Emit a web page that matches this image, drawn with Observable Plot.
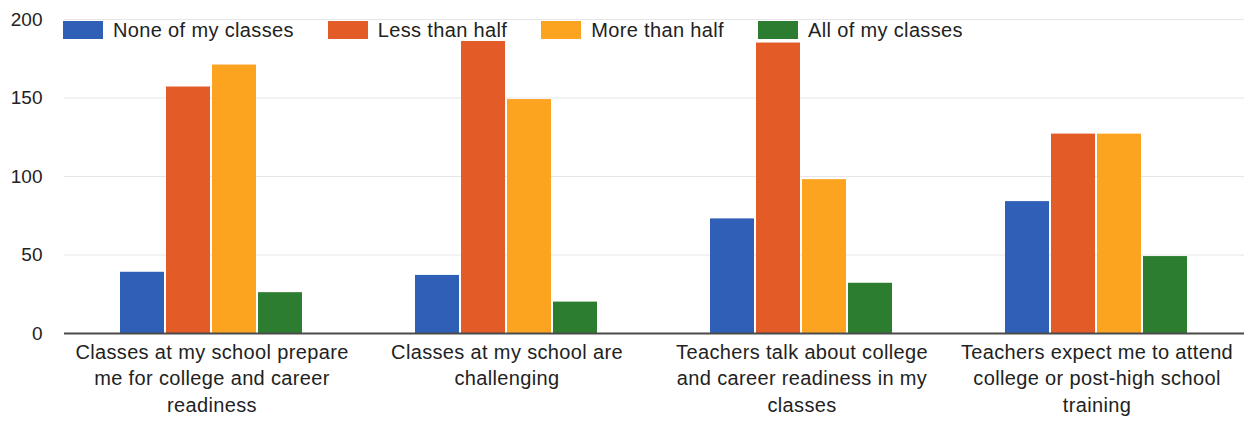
<!DOCTYPE html>
<html>
<head>
<meta charset="utf-8">
<script src="https://cdn.jsdelivr.net/npm/d3@7"></script>
<script src="https://cdn.jsdelivr.net/npm/@observablehq/plot@0.6"></script>
<style>
  html, body { margin: 0; padding: 0; background: #fff; }
  body { font-family: Arial, "Liberation Sans", sans-serif; }
  #wrap { position: relative; width: 1249px; height: 422px; overflow: hidden; }
  #legend { position: absolute; top: 21px; left: 63px; display: flex; align-items: center; }
  .item { display: flex; align-items: center; margin-right: 34px; }
  .sw { width: 40px; height: 18px; margin-right: 10px; }
  .lab { font-size: 20px; letter-spacing: 0.35px; line-height: 18px; color: #222; white-space: nowrap; }
  g[aria-label="fx-axis tick label"] text { letter-spacing: 0.35px; }
</style>
</head>
<body>
<div id="wrap">
  <div id="chart"></div>
  <div id="legend"></div>
</div>
<script>
// ---- data ----
const categories = [
  "Classes at my school prepare me for college and career readiness",
  "Classes at my school are challenging",
  "Teachers talk about college and career readiness in my classes",
  "Teachers expect me to attend college or post-high school training"
];
const categoryLabels = [
  "Classes at my school prepare\nme for college and career\nreadiness",
  "Classes at my school are\nchallenging",
  "Teachers talk about college\nand career readiness in my\nclasses",
  "Teachers expect me to attend\ncollege or post-high school\ntraining"
];
const series = ["None of my classes", "Less than half", "More than half", "All of my classes"];
const noneOfMyClasses = [39, 37, 73, 84];
const lessThanHalf    = [157, 186, 185, 127];
const moreThanHalf    = [171, 149, 98, 127];
const allOfMyClasses  = [26, 20, 32, 49];
const seriesColors = ["#2f5fb7", "#e35b26", "#fca420", "#2c7d2f"];
const yTicks = [0, 50, 100, 150, 200];

const seriesValues = [noneOfMyClasses, lessThanHalf, moreThanHalf, allOfMyClasses];
const rows = categories.flatMap((c, i) =>
  series.map((s, j) => ({category: c, series: s, value: seriesValues[j][i]}))
);
const labelOf = new Map(categories.map((c, i) => [c, categoryLabels[i]]));

const chart = Plot.plot({
  width: 1249,
  height: 422,
  marginLeft: 62,
  marginRight: 4,
  marginTop: 19,
  marginBottom: 89,
  style: {fontFamily: 'Arial, "Liberation Sans", sans-serif', background: "#fff", color: "#222"},
  fx: {domain: categories, padding: 0, label: null},
  x: {domain: series, paddingInner: 0.04, paddingOuter: 1.21, axis: null},
  y: {domain: [0, 200], label: null},
  color: {domain: series, range: seriesColors},
  marks: [
    Plot.ruleY(yTicks.filter(d => d > 0), {stroke: "#e6e6e6", strokeWidth: 1}),
    Plot.barY(rows, {fx: "category", x: "series", y: "value", fill: "series"}),
    Plot.ruleY([0], {stroke: "#4a4a4a", strokeWidth: 2}),
    Plot.axisY(yTicks, {tickSize: 0, tickPadding: 22, fontSize: 19, label: null, fill: "#222"}),
    Plot.axisFx({anchor: "bottom", tickSize: 0, tickPadding: 7, fontSize: 20, lineHeight: 1.31,
      tickFormat: d => labelOf.get(d), label: null, fill: "#222"})
  ]
});
document.getElementById("chart").appendChild(chart);

const legend = document.getElementById("legend");
series.forEach((s, i) => {
  const item = document.createElement("div");
  item.className = "item";
  const sw = document.createElement("div");
  sw.className = "sw";
  sw.style.background = seriesColors[i];
  const lab = document.createElement("span");
  lab.className = "lab";
  lab.textContent = s;
  item.appendChild(sw);
  item.appendChild(lab);
  legend.appendChild(item);
});
</script>
</body>
</html>
